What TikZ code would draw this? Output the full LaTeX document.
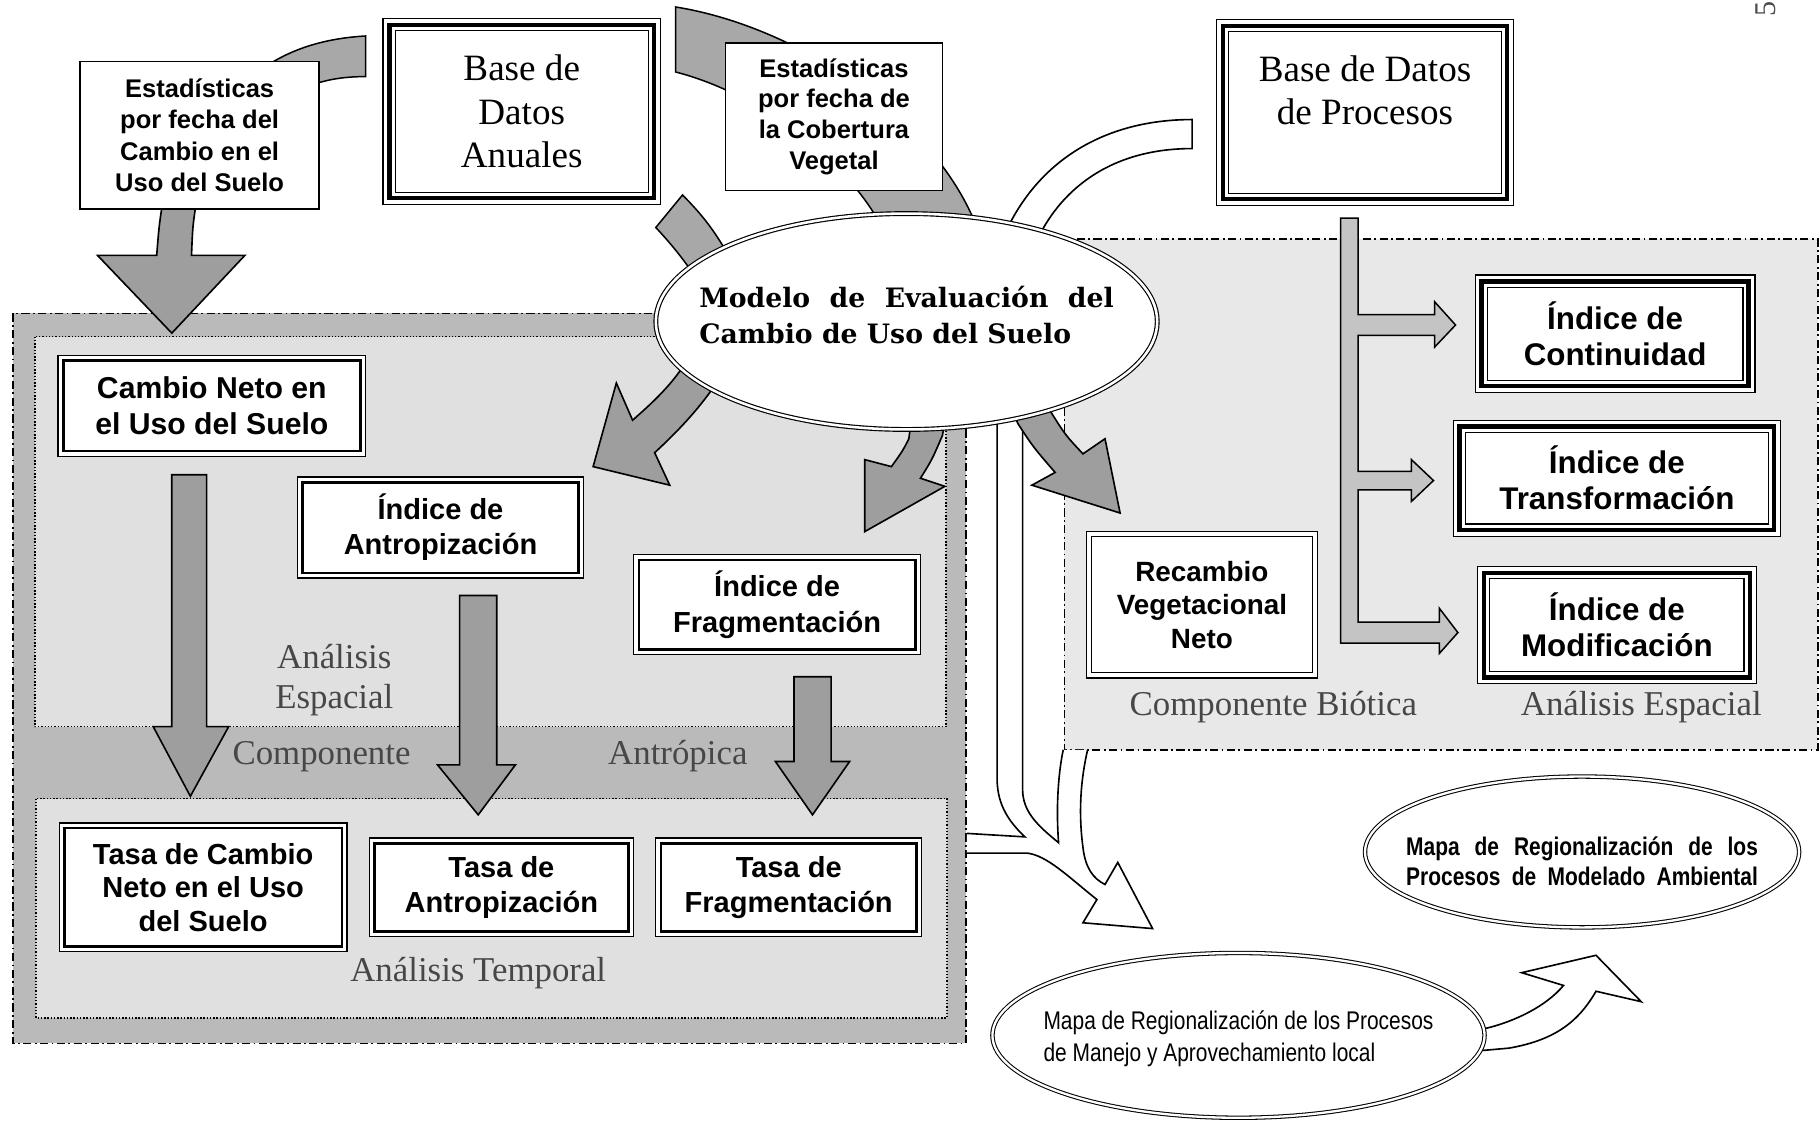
\documentclass[tikz,border=0pt]{standalone}
\usepackage{fontspec}
\usetikzlibrary{shapes.geometric}
\setmainfont{Liberation Serif}
\newfontfamily\arialf{Liberation Sans}
\newfontfamily\narrowf{Liberation Sans}[FakeStretch=0.82]
\newfontfamily\dvserif{DejaVu Serif}
\definecolor{regout}{gray}{0.73}
\definecolor{reginner}{gray}{0.88}
\definecolor{bioticfill}{gray}{0.91}
\definecolor{arrowgray}{gray}{0.62}
\definecolor{bandgray}{gray}{0.66}
\definecolor{bargray}{gray}{0.77}
\newcommand\tribord[1]{%
  \draw[line width=3.8pt] ([shift={(6pt,-6pt)}]#1.north west) rectangle ([shift={(-6pt,6pt)}]#1.south east);
  \draw[line width=1.1pt] ([shift={(11pt,-11pt)}]#1.north west) rectangle ([shift={(-11pt,11pt)}]#1.south east);}
\newcommand\dblbord[2]{%
  \draw[line width=#2] ([shift={(5pt,-5pt)}]#1.north west) rectangle ([shift={(-5pt,5pt)}]#1.south east);}
\tikzset{
  dashdotl/.style={line width=1.4pt, dash pattern=on 7pt off 3pt on 1.5pt off 3pt},
  dotl/.style={line width=1.5pt, dash pattern=on 1.2pt off 1.6pt},
  arrowstyle/.style={fill=arrowgray, draw=black, line width=1.4pt},
  bandstyle/.style={fill=bandgray, draw=black, line width=1.3pt},
  barstyle/.style={fill=bargray, draw=black, line width=1.3pt},
  sbox/.style={draw, fill=white, line width=1.3pt, inner sep=0pt, align=center},
  tbox/.style={draw, fill=white, line width=1.1pt, inner sep=0pt, align=center},
  dbox/.style={draw, fill=white, line width=1pt, inner sep=0pt, align=center},
  lbl/.style={inner sep=0pt, text=black!72, font=\fontsize{30}{34}\selectfont},
  mapell/.style={ellipse, draw, double, double distance=2pt, line width=0.9pt, fill=white, inner sep=0pt},
}
\begin{document}
\begin{tikzpicture}[x=1pt,y=-1pt]
\useasboundingbox (0,0) rectangle (1568,966);
\fill[white] (0,0) rectangle (1568,966);

% ---------- biotic region
\fill[bioticfill] (917,206) rectangle (1566,646);
\draw[dashdotl] (917,206) rectangle (1566,646);

% ---------- left (anthropic) region
\fill[regout] (11,270) rectangle (832,899);
\draw[dashdotl] (11,270) rectangle (832,899);
\fill[reginner] (30,290) rectangle (815,626);
\draw[dotl] (30,290) rectangle (815,626);
\fill[reginner] (31,688) rectangle (816,877);
\draw[dotl] (31,688) rectangle (816,877);

% ---------- region labels
\node[lbl, anchor=base] (lae1) at (288,576) {Análisis};
\node[lbl, anchor=base] (lae2) at (288,610) {Espacial};
\node[lbl, anchor=base] (lcomp) at (277,659) {Componente};
\node[lbl, anchor=base] (lantr) at (584,659) {Antrópica};
\node[lbl, anchor=base] (ltemp) at (412,846) {Análisis Temporal};
\node[lbl, anchor=base] (lbio) at (1097,616) {Componente Biótica};
\node[lbl, anchor=base] (lesp) at (1414,616) {Análisis Espacial};

% ---------- gray bands at the top
\draw[bandstyle] (315,31) -- (315,66) .. controls (298,66) and (285,68) .. (272,72) -- (228,72) -- (225,60) .. controls (250,42) and (280,33) .. (315,31) -- cycle;
\draw[bandstyle] (582,6) .. controls (700,25) and (830,120) .. (850,225) -- (772,225) .. controls (750,150) and (660,82) .. (582,62) -- cycle;
\draw[bandstyle] (588,168) .. controls (605,185) and (617,200) .. (632,228) -- (600,240) .. controls (588,222) and (578,210) .. (565,196) -- cycle;

% ---------- white band from Base de Datos de Procesos
\draw[fill=white, line width=1.4pt] (1027,103) .. controls (950,103) and (890,140) .. (862,210) -- (892,210) .. controls (912,165) and (955,128) .. (1027,128) -- cycle;

% ---------- arrow below first statistics box
\draw[arrowstyle] (140,175) .. controls (137,195) .. (135,220) -- (84,220) -- (148,287) -- (211,220) -- (165,220) .. controls (166,195) .. (169,175) -- cycle;

% ---------- top boxes
\node[sbox, minimum width=206pt, minimum height=127pt, font=\arialf\bfseries\fontsize{22}{27}\selectfont] (est1) at (172,116.5) {Estadísticas\\por fecha del\\Cambio en el\\Uso del Suelo};
\node[tbox, minimum width=239pt, minimum height=160pt, font=\fontsize{32}{37.5}\selectfont] (baseA) at (449.5,96) {Base de\\Datos\\Anuales};
\tribord{baseA}
\node[sbox, minimum width=187pt, minimum height=127pt, font=\arialf\bfseries\fontsize{22}{26.5}\selectfont] (estC) at (718.5,100.5) {Estadísticas\\por fecha de\\la Cobertura\\Vegetal};
\node[tbox, minimum width=256pt, minimum height=160pt] (baseP) at (1176,97) {};
\tribord{baseP}
\node[inner sep=0pt, align=center, font=\fontsize{32}{37}\selectfont] (basePt) at (1176,78) {Base de Datos\\de Procesos};

% ---------- white merging arrow
\fill[white] (833,718) -- (883,721) .. controls (866,705) and (859,690) .. (859,670) -- (859,350) -- (881,350) -- (881,680) .. controls (881,700) and (895,712) .. (912,726) .. controls (910,700) and (911,670) .. (916,646) -- (937,646) .. controls (931,672) and (929,700) .. (933,730) .. controls (935,748) and (942,757) .. (952,762) -- (963,743) -- (993,800) -- (933,795) -- (945,775) .. controls (920,755) and (902,737) .. (885,735) -- (833,735) -- cycle;
\draw[line width=1.4pt] (833,718) -- (883,721) .. controls (866,705) and (859,690) .. (859,670) -- (859,350);
\draw[line width=1.4pt] (881,350) -- (881,680) .. controls (881,700) and (895,712) .. (912,726) .. controls (910,700) and (911,670) .. (916,646);
\draw[line width=1.4pt] (937,646) .. controls (931,672) and (929,700) .. (933,730) .. controls (935,748) and (942,757) .. (952,762) -- (963,743) -- (993,800) -- (933,795) -- (945,775) .. controls (920,755) and (902,737) .. (885,735) -- (833,735);

% ---------- gray arrows out of the model ellipse
\draw[arrowstyle] (598,298) .. controls (588,322) and (568,342) .. (545,362) -- (531,330) -- (511,402) -- (577,418) -- (564,390) .. controls (588,368) and (612,342) .. (628,312) -- cycle;
\draw[arrowstyle] (786,355) -- (783,378) .. controls (778,388) .. (768,402) -- (745,396) -- (745,458) -- (814,419) -- (793,412) .. controls (803,396) .. (812,375) -- (815,355) -- cycle;
\draw[arrowstyle] (868,345) -- (877,365) .. controls (890,385) .. (909,407) -- (889,418) -- (965,442) -- (952,378) -- (933,391) .. controls (918,375) .. (906,356) -- (898,338) -- cycle;

% ---------- model ellipse
\node[ellipse, draw, double, double distance=2.2pt, line width=1pt, fill=white, minimum width=432pt, minimum height=186pt, inner sep=0pt] (modelo) at (781,277) {};
\node[inner sep=0pt, align=left, font=\dvserif\bfseries\fontsize{23}{31}\selectfont] (modelot) at (781,271) {\makebox[357pt][s]{Modelo de Evaluación del}\\Cambio de Uso del Suelo};

% ---------- left region arrows
\draw[arrowstyle] (148,409) -- (148,626) -- (132,626) -- (164,686) -- (197,626) -- (178,626) -- (178,409) -- cycle;
\draw[arrowstyle] (396,513) -- (396,659) -- (377,659) -- (412,702) -- (444,659) -- (428,659) -- (428,513) -- cycle;
\draw[arrowstyle] (684,583) -- (684,656) -- (668,656) -- (700,702) -- (732,656) -- (716,656) -- (716,583) -- cycle;

% ---------- left region boxes
\node[dbox, minimum width=265pt, minimum height=87pt, font=\arialf\bfseries\fontsize{26}{31}\selectfont] (cneto) at (182.5,349.5) {Cambio Neto en\\el Uso del Suelo};
\dblbord{cneto}{2.2pt}
\node[dbox, minimum width=247pt, minimum height=87pt, font=\arialf\bfseries\fontsize{25}{30}\selectfont] (iantro) at (379.5,454.5) {Índice de\\Antropización};
\dblbord{iantro}{2.2pt}
\node[dbox, minimum width=247pt, minimum height=86pt, font=\arialf\bfseries\fontsize{25}{31}\selectfont] (ifrag) at (669.5,521) {Índice de\\Fragmentación};
\dblbord{ifrag}{2.2pt}
\node[dbox, minimum width=248pt, minimum height=111pt, font=\arialf\bfseries\fontsize{25}{29}\selectfont] (tcambio) at (175,764.5) {Tasa de Cambio\\Neto en el Uso\\del Suelo};
\dblbord{tcambio}{2.2pt}
\node[dbox, minimum width=228pt, minimum height=85pt, font=\arialf\bfseries\fontsize{25}{30}\selectfont] (tantro) at (432,764.5) {Tasa de\\Antropización};
\dblbord{tantro}{2.2pt}
\node[dbox, minimum width=229pt, minimum height=85pt, font=\arialf\bfseries\fontsize{25}{30}\selectfont] (tfrag) at (679.5,764.5) {Tasa de\\Fragmentación};
\dblbord{tfrag}{2.2pt}

% ---------- biotic side: branching bar and boxes
\draw[barstyle] (1155,188) -- (1170,188) -- (1170,271) -- (1236,271) -- (1236,260) -- (1254,280) -- (1236,299) -- (1236,289) -- (1170,289) -- (1170,406) -- (1216,406) -- (1216,396) -- (1235,414) -- (1216,432) -- (1216,422) -- (1170,422) -- (1170,536) -- (1240,536) -- (1240,524) -- (1256,545) -- (1240,563) -- (1240,554) -- (1155,554) -- cycle;
\node[tbox, minimum width=241pt, minimum height=101pt, font=\arialf\bfseries\fontsize{27}{31}\selectfont] (icont) at (1391.5,287.5) {Índice de\\Continuidad};
\tribord{icont}
\node[tbox, minimum width=282pt, minimum height=100pt, font=\arialf\bfseries\fontsize{27}{31}\selectfont] (itrans) at (1393,412) {Índice de\\Transformación};
\tribord{itrans}
\node[tbox, minimum width=240pt, minimum height=101pt, font=\arialf\bfseries\fontsize{27}{31}\selectfont] (imod) at (1393,538.5) {Índice de\\Modificación};
\tribord{imod}
\node[dbox, minimum width=199pt, minimum height=126pt, line width=1.1pt, font=\arialf\bfseries\fontsize{24}{29}\selectfont] (recamb) at (1035.5,521) {Recambio\\Vegetacional\\Neto};
\dblbord{recamb}{1.1pt}

% ---------- lower right maps
\draw[fill=white, line width=1.4pt] (1266,884) -- (1280,886) .. controls (1305,880) and (1332,867) .. (1347,849) -- (1311,838) -- (1375,823) -- (1414,863) -- (1375,854) .. controls (1360,880) and (1340,896) .. (1300,903) -- (1266,906) -- cycle;
\node[mapell, minimum width=374pt, minimum height=130pt] (mapaA) at (1363,734) {};
\node[inner sep=0pt, align=center, font=\narrowf\bfseries\fontsize{22}{26}\selectfont] (mapaAt) at (1363,742) {\makebox[303pt][s]{Mapa de Regionalización de los}\\\makebox[303pt][s]{Procesos de Modelado Ambiental}};
\node[mapell, minimum width=424pt, minimum height=142pt] (mapaM) at (1067,892) {};
\node[inner sep=0pt, align=left, font=\narrowf\fontsize{22}{27}\selectfont] (mapaMt) at (1067,895) {Mapa de Regionalización de los Procesos\\de Manejo y Aprovechamiento local};

% ---------- page number fragment
\node[rotate=90, inner sep=0pt, text=black!70, font=\fontsize{26}{26}\selectfont] (pnum) at (1521,8) {5};
\end{tikzpicture}
\end{document}
